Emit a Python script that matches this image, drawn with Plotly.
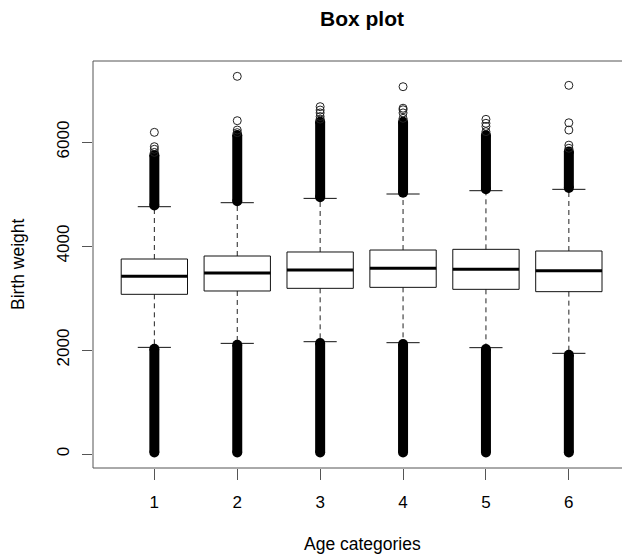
import plotly.graph_objects as go

# ---- data: birth weight by age category ----
categories = [1, 2, 3, 4, 5, 6]
q1 = [3071, 3135, 3186, 3205, 3167, 3122]
median = [3417, 3481, 3538, 3570, 3551, 3526]
q3 = [3750, 3808, 3885, 3923, 3936, 3904]
whisker_low = [2051, 2128, 2160, 2141, 2045, 1936]
whisker_high = [4756, 4833, 4916, 5000, 5064, 5090]

# outliers are so dense that they form solid runs between these limits
low_run_start = [30, 30, 30, 30, 30, 30]
low_run_end = [2025, 2100, 2135, 2115, 2020, 1910]
high_run_start = [4780, 4860, 4940, 5025, 5090, 5115]
high_run_end = [5750, 6135, 6390, 6390, 6135, 5817]

# sparse outliers above the dense runs
high_outliers = [
    [5800, 5860, 5910, 6186],
    [6180, 6230, 6410, 7263],
    [6440, 6490, 6560, 6615, 6680],
    [6455, 6560, 6620, 6650, 7064],
    [6200, 6300, 6360, 6436],
    [5880, 5940, 6230, 6370, 7090],
]

y_ticks = [0, 2000, 4000, 6000]

BOX_HALF = 0.4
STAPLE_HALF = 0.2
FONT = "Liberation Sans, Arial, Helvetica, sans-serif"
FRAME = "#555"

fig = go.Figure()

# dashed whiskers
wx, wy = [], []
for c, a, b, lo, hi in zip(categories, q1, q3, whisker_low, whisker_high):
    wx += [c, c, None, c, c, None]
    wy += [b, hi, None, a, lo, None]
fig.add_trace(go.Scatter(x=wx, y=wy, mode="lines",
                         line=dict(color="#222", width=1, dash="5px,4px")))

# staples
sx, sy = [], []
for c, lo, hi in zip(categories, whisker_low, whisker_high):
    sx += [c - STAPLE_HALF, c + STAPLE_HALF, None, c - STAPLE_HALF, c + STAPLE_HALF, None]
    sy += [hi, hi, None, lo, lo, None]
fig.add_trace(go.Scatter(x=sx, y=sy, mode="lines", line=dict(color="#111", width=1)))

# dense outlier runs (thick strokes with round ends)
rx, ry, ex, ey = [], [], [], []
for c, a, b, d, e in zip(categories, low_run_start, low_run_end, high_run_start, high_run_end):
    rx += [c, c, None, c, c, None]
    ry += [a, b, None, d, e, None]
    ex += [c, c, c, c]
    ey += [a, b, d, e]
fig.add_trace(go.Scatter(x=rx, y=ry, mode="lines", line=dict(color="black", width=10)))
fig.add_trace(go.Scatter(x=ex, y=ey, mode="markers",
                         marker=dict(symbol="circle", size=10, color="black",
                                     line=dict(width=0))))

# boxes (outline only)
bx, by = [], []
for c, a, b in zip(categories, q1, q3):
    bx += [c - BOX_HALF, c + BOX_HALF, c + BOX_HALF, c - BOX_HALF, c - BOX_HALF, None]
    by += [a, a, b, b, a, None]
fig.add_trace(go.Scatter(x=bx, y=by, mode="lines", line=dict(color="#111", width=1)))

# medians
mx, my = [], []
for c, m in zip(categories, median):
    mx += [c - BOX_HALF, c + BOX_HALF, None]
    my += [m, m, None]
fig.add_trace(go.Scatter(x=mx, y=my, mode="lines", line=dict(color="black", width=3)))

# sparse outliers
ox, oy = [], []
for c, vals in zip(categories, high_outliers):
    ox += [c] * len(vals)
    oy += vals
fig.add_trace(go.Scatter(x=ox, y=oy, mode="markers",
                         marker=dict(symbol="circle-open", size=8, color="#222",
                                     line=dict(width=1, color="#222"))))

L, R, T, B = 93, 0, 61, 91
W, H = 622, 559
plot_w = W - L - R
px_per_cat = 82.9
x0 = 0.26
x1 = x0 + plot_w / px_per_cat

fig.update_layout(
    width=W, height=H,
    margin=dict(l=L, r=R, t=T, b=B, pad=0),
    paper_bgcolor="white", plot_bgcolor="white",
    showlegend=False, hovermode=False,
    font=dict(family=FONT, size=17, color="black"),
    xaxis=dict(range=[x0, x1], tickmode="array", tickvals=categories,
               ticktext=[str(c) for c in categories],
               showgrid=False, zeroline=False, showline=False,
               ticks="outside", ticklen=11, tickcolor=FRAME, tickwidth=1,
               ticklabelstandoff=8,
               tickfont=dict(size=17, family=FONT, color="black")),
    yaxis=dict(range=[-269, 7558], tickmode="array", tickvals=y_ticks,
               ticktext=[str(v) for v in y_ticks],
               showgrid=False, zeroline=False, showline=False,
               ticks="outside", ticklen=10, tickcolor=FRAME, tickwidth=1,
               tickangle=-90, ticklabelstandoff=6,
               tickfont=dict(size=17, family=FONT, color="black")),
)

# plot frame: left, top and bottom edges (the right edge runs past the page)
for x_a, y_a, x_b, y_b in [(0, 0, 0, 1), (0, 1, 1, 1), (0, 0, 1, 0)]:
    fig.add_shape(type="line", xref="paper", yref="paper",
                  x0=x_a, y0=y_a, x1=x_b, y1=y_b,
                  line=dict(color=FRAME, width=1), layer="above")

plot_h = H - T - B


def px_to_paper(px, py):
    return (px - L) / plot_w, (H - B - py) / plot_h


tx, ty = px_to_paper(362, 18)
fig.add_annotation(text="<b>Box plot</b>", x=tx, y=ty, xref="paper", yref="paper",
                   xanchor="center", yanchor="middle", showarrow=False,
                   font=dict(size=21, family=FONT, color="black"))
ax_, ay_ = px_to_paper(362, 544)
fig.add_annotation(text="Age categories", x=ax_, y=ay_, xref="paper", yref="paper",
                   xanchor="center", yanchor="middle", showarrow=False,
                   font=dict(size=17.5, family=FONT, color="black"))
bx_, by_ = px_to_paper(18, 264)
fig.add_annotation(text="Birth weight", x=bx_, y=by_, xref="paper", yref="paper",
                   xanchor="center", yanchor="middle", showarrow=False, textangle=-90,
                   font=dict(size=17.5, family=FONT, color="black"))

fig.write_html("out.html")
